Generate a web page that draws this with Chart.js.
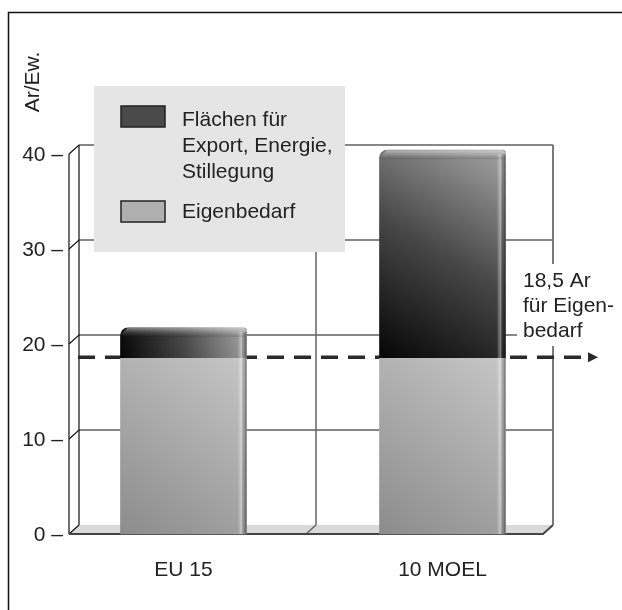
<!DOCTYPE html>
<html>
<head>
<meta charset="utf-8">
<script src="https://cdn.jsdelivr.net/npm/chart.js@4"></script>
<style>
  html, body { margin: 0; padding: 0; background: #fff; }
  canvas { display: block; }
</style>
</head>
<body>
<canvas id="myChart" width="622" height="610"></canvas>
<script>
// Fläche je Einwohner (Ar/Ew.)

const categories = ["EU 15", "10 MOEL"];
const eigenbedarf = [18.5, 18.5];
const flaechen = [3.2, 21.9];
const yTicks = [0, 10, 20, 30, 40];
const refValue = 18.5;
const refLabel = ["18,5 Ar", "für Eigen-", "bedarf"];
const legendLabels = [["Flächen für", "Export, Energie,", "Stillegung"], ["Eigenbedarf"]];

const FONT = '21px "Liberation Sans", Arial, sans-serif';
const TEXT = "#222";

// 3d box: front plane and back wall offset
const frontLeft = 69,
  frontRight = 543,
  depthX = 10,
  depthY = -9;

const barFill = (ctx, dark) => {
  const chart = ctx.chart;
  if (!chart.chartArea || ctx.type !== "data") return dark ? "#444" : "#aaa";
  const xs = chart.scales.x,
    ys = chart.scales.y;
  const i = ctx.dataIndex;
  const cx = xs.getPixelForValue(i);
  const bottom = ys.getPixelForValue(dark ? eigenbedarf[i] : 0);
  const top = ys.getPixelForValue(dark ? eigenbedarf[i] + flaechen[i] : eigenbedarf[i]);
  const g = chart.ctx.createLinearGradient(cx - 63, bottom, cx + 63, top);
  if (dark) {
    g.addColorStop(0, "#050505");
    g.addColorStop(0.5, "#474747");
    g.addColorStop(1, "#a4a4a4");
  } else {
    g.addColorStop(0, "#8c8c8c");
    g.addColorStop(1, "#c6c6c6");
  }
  return g;
};

const frame3d = {
  id: "frame3d",
  beforeDatasetsDraw(chart) {
    const c = chart.ctx,
      ys = chart.scales.y;
    const y0 = ys.getPixelForValue(0);
    const yTop = ys.getPixelForValue(yTicks[yTicks.length - 1]);
    const mid = (frontLeft + frontRight) / 2;
    c.save();

    // floor
    c.beginPath();
    c.moveTo(frontLeft, y0);
    c.lineTo(frontLeft + depthX, y0 + depthY);
    c.lineTo(frontRight + depthX, y0 + depthY);
    c.lineTo(frontRight, y0);
    c.closePath();
    c.fillStyle = "#dadada";
    c.fill();

    // back wall grid
    c.strokeStyle = "#111";
    c.lineWidth = 1.2;
    yTicks.forEach((v) => {
      const y = ys.getPixelForValue(v);
      c.beginPath();
      c.moveTo(frontLeft, y);
      c.lineTo(frontLeft + depthX, y + depthY);
      if (v > 0) c.lineTo(frontRight + depthX, y + depthY);
      c.stroke();
    });
    c.beginPath();
    c.moveTo(frontLeft, y0);
    c.lineTo(frontLeft, yTop);
    c.moveTo(frontLeft + depthX, y0 + depthY);
    c.lineTo(frontLeft + depthX, yTop + depthY);
    c.stroke();

    c.strokeStyle = "#666";
    c.lineWidth = 1.5;
    c.beginPath();
    c.moveTo(mid + depthX, y0 + depthY);
    c.lineTo(mid + depthX, yTop + depthY);
    c.moveTo(mid, y0);
    c.lineTo(mid + depthX, y0 + depthY);
    c.stroke();
    c.strokeStyle = "#7a7a7a";
    c.lineWidth = 2;
    c.beginPath();
    c.moveTo(frontRight + depthX, y0 + depthY);
    c.lineTo(frontRight + depthX, yTop + depthY);
    c.stroke();

    c.strokeStyle = "#444";
    c.lineWidth = 2;
    c.beginPath();
    c.moveTo(frontLeft, y0);
    c.lineTo(frontRight, y0);
    c.lineTo(frontRight + depthX, y0 + depthY);
    c.stroke();

    // note on the right, on white ground
    c.fillStyle = "#fff";
    c.fillRect(517, 264, 90, 82);
    c.fillStyle = TEXT;
    c.font = FONT;
    c.textAlign = "left";
    c.textBaseline = "alphabetic";
    refLabel.forEach((t, k) => c.fillText(t, 523, 287 + k * 25));

    // dashed reference line with arrow
    const yr = ys.getPixelForValue(refValue) - 1;
    c.strokeStyle = "#2a2a2a";
    c.lineWidth = 3.5;
    c.setLineDash([17, 10]);
    c.beginPath();
    c.moveTo(78, yr);
    c.lineTo(586, yr);
    c.stroke();
    c.setLineDash([]);
    c.fillStyle = "#2a2a2a";
    c.beginPath();
    c.moveTo(588, yr - 5);
    c.lineTo(598, yr);
    c.lineTo(588, yr + 5);
    c.closePath();
    c.fill();
    c.restore();
  },
  afterDatasetsDraw(chart) {
    const c = chart.ctx;
    const bottom = chart.scales.y.getPixelForValue(0);
    const tops = chart.getDatasetMeta(1).data;
    c.save();
    tops.forEach((el) => {
      const right = el.x + el.width / 2;
      const left = el.x - el.width / 2;
      // side face on the right
      const side = c.createLinearGradient(right - 9, 0, right, 0);
      side.addColorStop(0, "rgba(255,255,255,0)");
      side.addColorStop(0.45, "rgba(255,255,255,0.4)");
      side.addColorStop(0.7, "rgba(0,0,0,0.1)");
      side.addColorStop(1, "rgba(0,0,0,0.45)");
      c.fillStyle = side;
      c.fillRect(right - 9, el.y + 4, 9, bottom - el.y - 4);
      // top bevel
      const bev = c.createLinearGradient(0, el.y, 0, el.y + 9);
      bev.addColorStop(0, "rgba(255,255,255,0.45)");
      bev.addColorStop(0.5, "rgba(255,255,255,0.15)");
      bev.addColorStop(1, "rgba(0,0,0,0.15)");
      c.fillStyle = bev;
      c.beginPath();
      c.moveTo(left + 7, el.y);
      c.lineTo(right - 3, el.y);
      c.lineTo(right, el.y + 3);
      c.lineTo(right, el.y + 9);
      c.lineTo(left, el.y + 9);
      c.lineTo(left, el.y + 7);
      c.closePath();
      c.fill();
    });
    c.restore();
  },
  afterDraw(chart) {
    const c = chart.ctx,
      ys = chart.scales.y;
    c.save();
    c.font = FONT;
    c.fillStyle = TEXT;

    // y tick labels
    c.textAlign = "right";
    c.textBaseline = "middle";
    yTicks.forEach((v) => c.fillText(v + " –", 63, ys.getPixelForValue(v) + 1));

    // axis title
    c.save();
    c.translate(33, 82);
    c.rotate(-Math.PI / 2);
    c.textAlign = "center";
    c.fillText("Ar/Ew.", 0, 0);
    c.restore();

    // legend box
    c.fillStyle = "#e5e5e5";
    c.fillRect(94, 86, 251, 166);
    const swatches = [
      { y: 106, color: "#4a4a4a" },
      { y: 201, color: "#b0b0b0" },
    ];
    c.lineWidth = 1.5;
    c.strokeStyle = "#222";
    swatches.forEach((s) => {
      c.fillStyle = s.color;
      c.fillRect(121, s.y, 44, 21);
      c.strokeRect(121, s.y, 44, 21);
    });
    c.fillStyle = TEXT;
    c.textAlign = "left";
    c.textBaseline = "alphabetic";
    legendLabels[0].forEach((t, k) => c.fillText(t, 182, 126 + k * 26));
    legendLabels[1].forEach((t) => c.fillText(t, 182, 218));

    // outer frame (top and left)
    c.strokeStyle = "#111";
    c.lineWidth = 1.5;
    c.beginPath();
    c.moveTo(8.5, 610);
    c.lineTo(8.5, 12.5);
    c.lineTo(622, 12.5);
    c.stroke();
    c.restore();
  },
};

const data = {
  labels: categories,
  datasets: [
    {
      label: "Eigenbedarf",
      data: eigenbedarf,
      backgroundColor: (ctx) => barFill(ctx, false),
      borderWidth: 0,
      clip: false,
    },
    {
      label: "Flächen für Export, Energie, Stillegung",
      data: flaechen,
      backgroundColor: (ctx) => barFill(ctx, true),
      borderWidth: 0,
      borderRadius: { topLeft: 8, topRight: 3 },
      borderSkipped: "bottom",
      clip: false,
    },
  ],
};

const config = {
  type: "bar",
  data: data,
  plugins: [frame3d],
  options: {
    responsive: false,
    animation: false,
    layout: { padding: { left: 54, right: 50, top: 154, bottom: 0 } },
    barThickness: 126,
    plugins: { legend: { display: false }, tooltip: { enabled: false } },
    scales: {
      x: {
        stacked: true,
        grid: { display: false, drawTicks: false },
        border: { display: false },
        ticks: {
          color: TEXT,
          padding: 24,
          font: { family: '"Liberation Sans", Arial, sans-serif', size: 21 },
        },
        afterFit: (s) => {
          s.height = 76;
        },
      },
      y: {
        stacked: true,
        display: false,
        min: 0,
        max: 40,
      },
    },
  },
};

const myChart = new Chart(document.getElementById("myChart"), config);
</script>
</body>
</html>
